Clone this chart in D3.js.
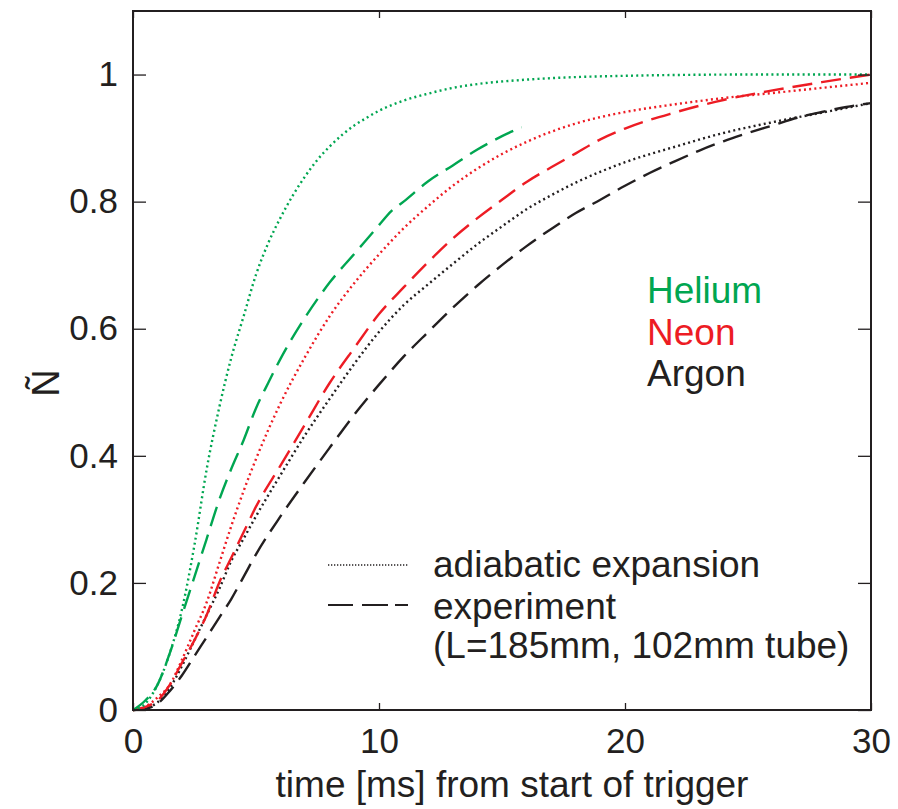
<!DOCTYPE html>
<html><head><meta charset="utf-8">
<script src="https://cdn.jsdelivr.net/npm/d3@7"></script>
<style>body{margin:0;background:#fff}svg{display:block}text{font-family:"Liberation Sans",Arial,sans-serif;fill:#231f20}</style>
</head><body><div id="c"></div>
<script>
const xTicks=[0,10,20,30];
const yTicks=[0,0.2,0.4,0.6,0.8,1];
const yTickLabels=["0","0.2","0.4","0.6","0.8","1"];
const heAdiabatic=[[0,0],[0.5,0.01],[1,0.04],[1.5,0.09],[2,0.16],[2.5,0.26],[3,0.38],[3.5,0.475],[4,0.555],[4.5,0.62],[5,0.685],[5.5,0.735],[6,0.775],[6.5,0.81],[7,0.84],[7.5,0.866],[8,0.887],[8.5,0.905],[9,0.92],[9.5,0.932],[10,0.943],[11,0.959],[12,0.97],[13,0.979],[14,0.985],[16,0.992],[18,0.996],[20,0.998],[25,1.0],[30,1.0]];
const heExperiment=[[0,0],[0.5,0.015],[1,0.04],[1.5,0.09],[2,0.15],[2.5,0.21],[3,0.27],[3.5,0.33],[4,0.38],[4.5,0.425],[5,0.475],[5.5,0.515],[6,0.553],[7,0.618],[8,0.673],[9,0.718],[10,0.763],[10.5,0.785],[11,0.80],[12,0.832],[13,0.857],[14,0.882],[15,0.903],[15.8,0.917]];
const neAdiabatic=[[0,0],[0.5,0.005],[1,0.02],[1.5,0.04],[2,0.08],[2.5,0.125],[3,0.17],[3.5,0.23],[4,0.29],[4.5,0.345],[5,0.395],[6,0.483],[7,0.556],[8,0.62],[9,0.672],[10,0.717],[11,0.758],[12,0.793],[13,0.825],[14,0.852],[15,0.875],[16,0.894],[17,0.91],[18,0.923],[19,0.933],[20,0.941],[22,0.953],[24,0.963],[26,0.971],[28,0.979],[30,0.987]];
const neExperiment=[[0,0],[0.5,0.005],[1,0.015],[1.5,0.04],[2,0.075],[2.5,0.11],[3,0.15],[3.5,0.2],[4,0.24],[4.5,0.28],[5,0.32],[6,0.385],[7,0.45],[8,0.515],[9,0.57],[10,0.623],[11,0.665],[12,0.705],[13,0.742],[14,0.774],[15,0.803],[16,0.831],[17,0.854],[18,0.876],[19,0.898],[20,0.915],[22,0.94],[24,0.96],[26,0.975],[28,0.988],[30,1.0]];
const arAdiabatic=[[0,0],[0.5,0.003],[1,0.012],[1.5,0.035],[2,0.07],[2.5,0.11],[3,0.15],[3.5,0.19],[4,0.235],[4.5,0.27],[5,0.305],[6,0.37],[7,0.433],[8,0.49],[9,0.545],[10,0.595],[11,0.637],[12,0.67],[13,0.702],[14,0.733],[15,0.761],[16,0.788],[17,0.81],[18,0.83],[19,0.847],[20,0.862],[22,0.886],[24,0.908],[26,0.925],[28,0.94],[30,0.955]];
const arExperiment=[[0,0],[0.5,0.002],[1,0.01],[1.5,0.03],[2,0.055],[2.5,0.085],[3,0.115],[3.5,0.145],[4,0.175],[4.5,0.21],[5,0.245],[6,0.305],[7,0.36],[8,0.413],[9,0.465],[10,0.512],[11,0.556],[12,0.595],[13,0.633],[14,0.668],[15,0.70],[16,0.73],[17,0.757],[18,0.782],[19,0.803],[20,0.825],[21,0.845],[22,0.863],[23,0.88],[24,0.895],[25,0.908],[26,0.92],[27,0.932],[28,0.941],[29,0.949],[30,0.955]];
const gases=["Helium","Neon","Argon"];
const legendLabels=["adiabatic expansion","experiment","(L=185mm, 102mm tube)"];

const W=898,H=809;
const colors={Helium:"#00a651",Neon:"#ed1c24",Argon:"#231f20"};
const svg=d3.select("#c").append("svg").attr("width",W).attr("height",H);
const x=d3.scaleLinear().domain([0,30]).range([133,871]);
const y=d3.scaleLinear().domain([0,1.1]).range([710,11]);
const line=d3.line().x(d=>x(d[0])).y(d=>y(d[1])).curve(d3.curveMonotoneX);
const DOT="2,3.2",DASH="20,9";
const series=[
 {d:arExperiment,c:colors.Argon,dash:DASH},
 {d:arAdiabatic,c:colors.Argon,dash:DOT},
 {d:neExperiment,c:colors.Neon,dash:DASH},
 {d:neAdiabatic,c:colors.Neon,dash:DOT},
 {d:heExperiment,c:colors.Helium,dash:DASH},
 {d:heAdiabatic,c:colors.Helium,dash:DOT}];
svg.append("g").selectAll("path").data(series).join("path")
 .attr("d",s=>line(s.d)).attr("fill","none").attr("stroke",s=>s.c)
 .attr("stroke-width",2.4).attr("stroke-dasharray",s=>s.dash);

const fc="#231f20";
svg.append("rect").attr("x",x(0)).attr("y",y(1.1)).attr("width",x(30)-x(0)).attr("height",y(0)-y(1.1))
 .attr("fill","none").attr("stroke",fc).attr("stroke-width",2);
const ax=svg.append("g").attr("transform",`translate(0,${y(0)})`)
 .call(d3.axisBottom(x).tickValues(xTicks).tickSize(-7).tickPadding(18).tickFormat(d3.format("d")));
const ay=svg.append("g").attr("transform",`translate(${x(0)},0)`)
 .call(d3.axisLeft(y).tickValues(yTicks).tickSize(-13).tickPadding(15).tickFormat((d,i)=>yTickLabels[i]));
const at=svg.append("g").attr("transform",`translate(0,${y(1.1)})`)
 .call(d3.axisTop(x).tickValues(xTicks).tickSize(-7).tickFormat(""));
const ar=svg.append("g").attr("transform",`translate(${x(30)},0)`)
 .call(d3.axisRight(y).tickValues(yTicks).tickSize(-13).tickFormat(""));
[ax,ay,at,ar].forEach(g=>{g.select(".domain").remove();g.selectAll("line").attr("stroke",fc).attr("stroke-width",1.3);
 g.selectAll("text").style("font-size","35px").attr("fill",fc).style("font-family","Liberation Sans, Arial, sans-serif");});
ax.selectAll("text").attr("dy","0.72em");

svg.append("text").attr("x",(x(0)+x(30))/2+10).attr("y",797).attr("text-anchor","middle").style("font-size","37px").text("time [ms] from start of trigger");
svg.append("text").attr("transform","translate(59,383) rotate(-90)").attr("text-anchor","middle").style("font-size","38px").text("Ñ");

svg.append("g").selectAll("text").data(gases).join("text")
 .attr("x",647).attr("y",(d,i)=>303+i*41.5).style("font-size","37px").style("fill",d=>colors[d]).text(d=>d);

svg.append("line").attr("x1",328).attr("x2",408).attr("y1",565).attr("y2",565).attr("stroke",fc).attr("stroke-width",1.6).attr("stroke-dasharray","1.3,1.7");
svg.append("line").attr("x1",328).attr("x2",408).attr("y1",605).attr("y2",605).attr("stroke",fc).attr("stroke-width",2).attr("stroke-dasharray","25,9,26,7,13");
svg.append("g").selectAll("text").data(legendLabels).join("text")
 .attr("x",433).attr("y",(d,i)=>[577,619,658][i]).style("font-size","37px").text(d=>d);
</script></body></html>
